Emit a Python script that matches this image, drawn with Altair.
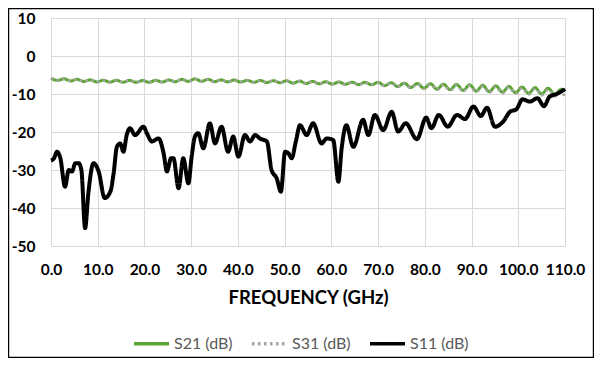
import altair as alt
import pandas as pd

# ---- data ----
freq_s2x = [0.0, 1.4, 2.8, 4.2, 5.6, 7.0, 8.4, 9.8, 11.2, 12.6, 14.0, 15.4, 16.8, 18.2, 19.6,
            21.0, 22.4, 23.8, 25.2, 26.6, 28.0, 29.4, 30.8, 32.2, 33.6, 35.0, 36.4, 37.8, 39.2,
            40.6, 42.0, 43.4, 44.8, 46.2, 47.6, 49.0, 50.4, 51.8, 53.2, 54.6, 56.0, 57.4, 58.8,
            60.2, 61.6, 63.0, 64.4, 65.8, 67.2, 68.6, 70.0, 71.4, 72.8, 74.2, 75.6, 77.0, 78.4,
            79.8, 81.2, 82.6, 84.0, 85.4, 86.8, 88.2, 89.6, 91.0, 92.4, 93.8, 95.2, 96.6, 98.0,
            99.4, 100.8, 102.2, 103.6, 105.0, 106.4, 107.8, 109.2, 110.0]

s21_db = [-5.85, -6.42, -5.99, -6.56, -6.13, -6.70, -6.27, -6.84, -6.36, -6.88, -6.39, -6.90,
          -6.42, -6.93, -6.45, -6.92, -6.38, -6.84, -6.30, -6.76, -6.15, -6.68, -6.01, -6.66,
          -6.13, -6.75, -6.28, -6.81, -6.33, -6.86, -6.39, -6.92, -6.45, -6.97, -6.50, -7.03,
          -6.51, -7.15, -6.60, -7.24, -6.68, -7.32, -6.76, -7.40, -6.83, -7.46, -6.89, -7.52,
          -6.94, -7.57, -6.90, -7.83, -7.02, -8.05, -7.14, -8.27, -7.25, -8.49, -7.31, -8.73,
          -7.40, -8.87, -7.49, -9.06, -7.58, -9.25, -7.72, -9.39, -7.86, -9.53, -8.00, -9.67,
          -8.15, -9.83, -8.32, -10.00, -8.48, -10.17, -8.75, -9.20]

s31_db = [-5.85, -6.42, -5.99, -6.56, -6.13, -6.70, -6.27, -6.84, -6.36, -6.88, -6.39, -6.90,
          -6.42, -6.93, -6.45, -6.92, -6.38, -6.84, -6.30, -6.76, -6.15, -6.68, -6.01, -6.66,
          -6.13, -6.75, -6.28, -6.81, -6.33, -6.86, -6.39, -6.92, -6.45, -6.97, -6.50, -7.03,
          -6.51, -7.15, -6.60, -7.24, -6.68, -7.32, -6.76, -7.40, -6.83, -7.46, -6.89, -7.52,
          -6.94, -7.57, -6.95, -7.90, -7.10, -8.15, -7.25, -8.40, -7.40, -8.65, -7.50, -8.95,
          -7.60, -9.10, -7.70, -9.30, -7.80, -9.50, -7.95, -9.65, -8.10, -9.80, -8.25, -9.95,
          -8.45, -10.15, -8.65, -10.35, -8.85, -10.55, -9.30, -11.10]

freq_s11 = [0.0, 0.6, 1.3, 2.0, 3.0, 3.8, 4.5, 5.2, 5.9, 6.5, 7.3, 8.0, 9.1, 10.2, 11.5, 12.7,
            13.4, 14.1, 14.8, 15.5, 16.2, 16.9, 18.0, 19.8, 20.5, 21.6, 23.0, 24.1, 24.8, 25.7,
            26.2, 27.3, 28.3, 29.4, 30.1, 30.8, 31.5, 32.6, 34.0, 35.1, 36.5, 37.9, 39.0, 40.1,
            41.5, 42.6, 43.7, 44.7, 46.2, 47.2, 48.3, 49.2, 50.1, 50.8, 51.5, 52.4, 53.3, 54.7,
            56.1, 57.9, 59.0, 60.4, 61.5, 62.2, 63.2, 64.7, 66.8, 67.9, 69.3, 71.1, 72.9, 74.3,
            75.9, 78.3, 80.3, 81.4, 83.0, 84.9, 86.9, 88.6, 90.4, 92.0, 93.3, 95.0, 96.8, 98.2,
            99.6, 100.9, 102.5, 104.1, 105.5, 106.7, 108.2, 110.0]

s11_db = [-27.5, -27.0, -25.2, -26.9, -34.4, -30.0, -30.4, -28.2, -28.2, -30.0, -45.3, -36.0,
          -28.2, -30.4, -37.4, -35.7, -30.9, -23.9, -23.0, -25.2, -20.8, -19.0, -20.8, -18.6,
          -20.3, -22.5, -21.7, -25.6, -30.4, -26.9, -26.9, -34.8, -26.9, -33.5, -26.5, -21.2,
          -20.3, -24.3, -17.7, -23.0, -18.6, -25.2, -21.2, -26.5, -20.8, -22.5, -20.8, -21.7,
          -22.5, -30.0, -32.2, -35.7, -25.2, -25.6, -26.9, -22.5, -18.2, -20.8, -17.7, -23.0,
          -21.7, -22.1, -33.1, -24.3, -18.2, -23.9, -16.8, -20.8, -15.5, -19.5, -14.7, -19.9,
          -17.7, -21.9, -16.2, -19.0, -15.5, -18.6, -15.5, -16.6, -13.3, -15.8, -13.6, -18.6,
          -17.2, -14.7, -14.0, -11.4, -12.0, -11.1, -13.2, -10.7, -10.0, -8.7]

series_names = ["S21 (dB)", "S31 (dB)", "S11 (dB)"]
series_colors = ["#5BA533", "#A5A5A5", "#000000"]
series_dashes = [[1, 0], [2.5, 3.5], [1, 0]]
x_ticks = [0, 10, 20, 30, 40, 50, 60, 70, 80, 90, 100, 110]
y_ticks = [-50, -40, -30, -20, -10, 0, 10]

# ---- table ----
df = pd.concat([
    pd.DataFrame({"f": freq_s2x, "v": s21_db, "series": series_names[0]}),
    pd.DataFrame({"f": freq_s2x, "v": s31_db, "series": series_names[1]}),
    pd.DataFrame({"f": freq_s11, "v": s11_db, "series": series_names[2]}),
], ignore_index=True)

FONT = "Lato"
W, H = 514, 228
LEFT, TOP = 43, 10
TOTAL_W, TOTAL_H = 586, 350

legend = alt.Legend(
    title=None, orient="none", legendX=81, legendY=306, direction="horizontal",
    symbolType="stroke", symbolSize=1225, symbolStrokeWidth=3.5,
    labelFont=FONT, labelFontSize=16, labelColor="#595959", labelOffset=3,
    columnPadding=12, padding=0,
)

axis_common = dict(
    grid=True, gridColor="#D9D9D9", gridWidth=1, domain=False, ticks=False,
    labelFont=FONT, labelFontSize=15.5, labelFontWeight="bold", labelColor="#000000",
    labelFlush=False, labelOverlap=False,
)

base = alt.Chart(df).encode(
    x=alt.X("f:Q", scale=alt.Scale(domain=[0, 110], nice=False, zero=False),
            axis=alt.Axis(values=x_ticks, labelExpr="format(datum.value, '.1f')",
                          title="FREQUENCY (GHz)", titleFont=FONT, titleFontSize=18.5,
                          titleFontWeight="bold", titleColor="#000000",
                          labelPadding=16, titlePadding=11, **axis_common)),
    y=alt.Y("v:Q", scale=alt.Scale(domain=[-50, 10], nice=False, zero=False),
            axis=alt.Axis(values=y_ticks, labelExpr="'' + datum.value", title=None,
                          labelPadding=16, **axis_common)),
    color=alt.Color("series:N", scale=alt.Scale(domain=series_names, range=series_colors),
                    legend=legend),
    strokeDash=alt.StrokeDash("series:N", scale=alt.Scale(domain=series_names, range=series_dashes),
                              legend=legend),
)

l21 = base.transform_filter(alt.datum.series == series_names[0]).mark_line(
    strokeWidth=3, interpolate="monotone")
l31 = base.transform_filter(alt.datum.series == series_names[1]).mark_line(
    strokeWidth=2.6, interpolate="monotone")
l11 = base.transform_filter(alt.datum.series == series_names[2]).mark_line(
    strokeWidth=4, interpolate="monotone")

frame = alt.Chart(pd.DataFrame({"a": [0]})).mark_rect(
    fill=None, stroke="#000000", strokeWidth=1.2
).encode(
    x=alt.value(-LEFT + 0.6), x2=alt.value(TOTAL_W - LEFT - 0.6),
    y=alt.value(-TOP + 0.6), y2=alt.value(TOTAL_H - TOP - 0.6),
)

chart = alt.layer(l21, l31, l11, frame).properties(
    width=W, height=H,
    autosize=alt.AutoSizeParams(type="none"),
    padding={"left": LEFT, "top": TOP, "right": TOTAL_W - LEFT - W, "bottom": TOTAL_H - TOP - H},
    background="#FFFFFF",
).configure_view(stroke=None)

chart.save("out.html", embed_options={"renderer": "svg", "actions": False})
